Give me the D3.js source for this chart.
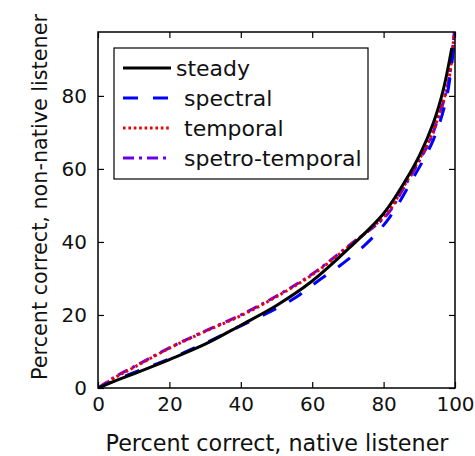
<!DOCTYPE html>
<html>
<head>
<meta charset="utf-8">
<script src="https://d3js.org/d3.v7.min.js"></script>
<style>
  body { margin: 0; background: #fff; }
  text { font-family: "DejaVu Sans", sans-serif; }
</style>
</head>
<body>
<div id="chart"></div>
<script>
// native listener percent correct (x) vs non-native (y)
const steadyX   = [0, 5, 10, 20, 30, 40, 50, 60, 70, 80, 86, 90.2, 93.9, 96.7, 99.1];
const steadyY   = [0, 2, 3.9, 7.8, 12, 17.2, 22.6, 29.3, 38, 47.8, 56.6, 64, 72.5, 81.6, 93.1];
const spectralX = [0, 5, 10, 20, 30, 40, 50, 56, 62, 68.7, 76.2, 81.8, 87.4, 93.9, 97.7, 100];
const spectralY = [0, 2.2, 4.2, 8, 12.3, 17, 21.8, 25.2, 29.6, 34.2, 40.5, 46.9, 56, 67.9, 79.8, 97];
const temporalX = [0, 5, 10, 20, 30, 40, 50, 60, 70, 81, 85.5, 89.3, 93, 95.3, 98.1, 99.5, 99.8];
const temporalY = [0, 3, 5.6, 10.9, 15.5, 19.8, 25, 31, 38.6, 47.9, 55, 61.4, 68.2, 74.3, 83.5, 94.4, 97.5];
const stX       = [0, 5, 10, 20, 30, 40, 50, 60, 70, 81, 85.5, 89.3, 93, 95.3, 98.1, 99.5, 99.8];
const stY       = [0, 3.2, 5.8, 11, 15.6, 20, 25.2, 31.2, 38.8, 47.5, 54.6, 61, 67.8, 74, 83.3, 94.4, 97.5];

const seriesNames = ["steady", "spectral", "temporal", "spetro-temporal"];
const xTicks = [0, 20, 40, 60, 80, 100];
const yTicks = [0, 20, 40, 60, 80];

const series = [
  { name: seriesNames[0], xs: steadyX, ys: steadyY, color: "#000000", dash: null, width: 3 },
  { name: seriesNames[1], xs: spectralX, ys: spectralY, color: "#0000ff", dash: "15,15", width: 3 },
  { name: seriesNames[2], xs: temporalX, ys: temporalY, color: "#ee0000", dash: "2.6,2.8", width: 3 },
  { name: seriesNames[3], xs: stX, ys: stY, color: "#6a00e6", dash: "11,5,3,5", width: 3 }
];

const width = 475, height = 456;
const margin = { top: 32, right: 20, bottom: 68, left: 98 };

const svg = d3.select("#chart").append("svg")
  .attr("width", width)
  .attr("height", height);

const x = d3.scaleLinear().domain([0, 100]).range([margin.left, width - margin.right]);
const y = d3.scaleLinear().domain([0, 97.5]).range([height - margin.bottom, margin.top]);

svg.append("clipPath").attr("id", "clip")
  .append("rect")
  .attr("x", x(0)).attr("y", y(97.5))
  .attr("width", x(100) - x(0)).attr("height", y(0) - y(97.5));

// axes with inward ticks on all sides
const tickLen = 6;
const fs = "20px";
const axBottom = svg.append("g").attr("transform", `translate(0,${y(0)})`)
  .call(d3.axisBottom(x).tickValues(xTicks).tickSizeInner(-tickLen).tickSizeOuter(0).tickPadding(7));
const axTop = svg.append("g").attr("transform", `translate(0,${y(97.5)})`)
  .call(d3.axisTop(x).tickValues(xTicks).tickSizeInner(-tickLen).tickSizeOuter(0).tickFormat(""));
const axLeft = svg.append("g").attr("transform", `translate(${x(0)},0)`)
  .call(d3.axisLeft(y).tickValues(yTicks).tickSizeInner(-tickLen).tickSizeOuter(0).tickPadding(11));
const axRight = svg.append("g").attr("transform", `translate(${x(100)},0)`)
  .call(d3.axisRight(y).tickValues(yTicks).tickSizeInner(-tickLen).tickSizeOuter(0).tickFormat(""));

[axBottom, axTop, axLeft, axRight].forEach(g => {
  g.select(".domain").remove();
  g.selectAll(".tick line").attr("stroke", "#000").attr("stroke-width", 1.2);
  g.selectAll(".tick text").attr("fill", "#111").style("font-size", fs)
    .style("font-family", '"DejaVu Sans", sans-serif');
});
axBottom.selectAll(".tick text").attr("dy", "0.78em");

// lines
const lineGen = d3.line().x(d => x(d[0])).y(d => y(d[1])).curve(d3.curveCatmullRom.alpha(0.5));
const plot = svg.append("g").attr("clip-path", "url(#clip)");
series.slice().reverse().forEach(s => {
  const pts = s.xs.map((v, i) => [v, s.ys[i]]);
  plot.append("path")
    .datum(pts)
    .attr("fill", "none")
    .attr("stroke", s.color)
    .attr("stroke-width", s.width)
    .attr("stroke-dasharray", s.dash)
    .attr("d", lineGen);
});

// frame
svg.append("rect")
  .attr("x", x(0)).attr("y", y(97.5))
  .attr("width", x(100) - x(0)).attr("height", y(0) - y(97.5))
  .attr("fill", "none").attr("stroke", "#000").attr("stroke-width", 1.5);

// legend
const lg = svg.append("g");
lg.append("rect")
  .attr("x", 114).attr("y", 48).attr("width", 254).attr("height", 131)
  .attr("fill", "#fff").attr("stroke", "#000").attr("stroke-width", 1.2);
series.forEach((s, i) => {
  const cy = 68 + i * 30;
  lg.append("line")
    .attr("x1", 123).attr("x2", 171).attr("y1", cy).attr("y2", cy)
    .attr("stroke", s.color).attr("stroke-width", s.width)
    .attr("stroke-dasharray", s.dash);
  lg.append("text")
    .attr("x", i === 0 ? 176 : 184).attr("y", cy)
    .attr("dy", "0.35em")
    .style("font-size", "22px")
    .attr("fill", "#111")
    .text(s.name);
});

// axis labels, font size fitted to the target length
function fitLabel(t, target) {
  const len = t.node().getComputedTextLength();
  t.style("font-size", (22 * target / len).toFixed(2) + "px");
}

const xl = svg.append("text")
  .attr("x", 277).attr("y", 451)
  .attr("text-anchor", "middle")
  .style("font-size", "22px")
  .attr("fill", "#111")
  .text("Percent correct, native listener");
fitLabel(xl, 343);

const yl = svg.append("text")
  .attr("transform", "translate(47,197) rotate(-90)")
  .attr("text-anchor", "middle")
  .style("font-size", "22px")
  .attr("fill", "#111")
  .text("Percent correct, non-native listener");
fitLabel(yl, 366);
</script>
</body>
</html>
